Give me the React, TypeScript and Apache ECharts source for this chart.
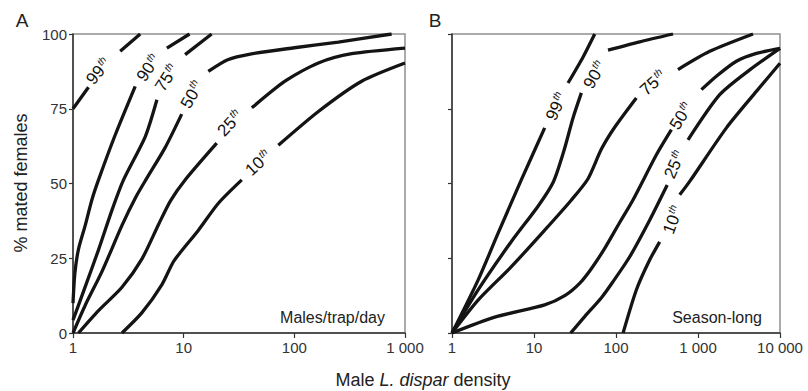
import { useEffect, useRef } from "react";
import * as echarts from "echarts";

// ---------- data ----------
const yMin = 0;
const yMax = 100;
const yInterval = 25;
const xMaxA = 1000;
const xMaxB = 10000;

// Panel A (Males/trap/day): each curve = segments separated by its label gap
const A99 = [
  [[1, 75], [1.38, 82.2]],
  [[2.67, 94.2], [4.05, 100]],
];
const A90 = [
  [[1, 10], [1.04, 20], [1.12, 28], [1.29, 36], [1.48, 44.5], [1.7, 51.2], [2.41, 66.3], [3.65, 82.5]],
  [[7.05, 95.3], [11.3, 100]],
];
const A75 = [
  [[1, 4.3], [1.29, 15.5], [1.7, 27.8], [2.25, 41.1], [2.86, 51.2], [4.5, 65.7], [5.73, 78]],
  [[10.3, 93.1], [17.9, 100]],
];
const A50 = [
  [[1, 0], [1.29, 9.3], [1.83, 20.6], [2.77, 36], [3.7, 45.5], [4.65, 51.8], [6.8, 62], [9.6, 73.2]],
  [[16.7, 87.5], [25, 91.4], [40, 93.3], [100, 95.4], [250, 97.3], [757, 100]],
];
const A25 = [
  [[1.12, 0], [1.7, 7.5], [2.77, 15.3], [4.2, 24.8], [5.93, 36.3], [7.6, 44.2], [10.3, 51.2], [19.9, 63.5]],
  [[41.3, 75.3], [82.4, 84.2], [165, 90.3], [330, 93.4], [1000, 95.3]],
];
const A10 = [
  [[2.77, 0], [4.2, 6.8], [6.36, 16.2], [8.2, 24.2], [13.6, 34.4], [20.6, 43.4], [33.5, 51.2]],
  [[71.7, 62.8], [165, 74.1], [406, 84.2], [1000, 90.3]],
];

// Panel B (Season-long)
const B99 = [
  [[1, 0], [2.08, 17.7], [3.64, 33.3], [7.0, 51.2], [13.5, 68.6]],
  [[26, 83.6], [40, 92.5], [55, 100]],
];
const B90 = [
  [[1, 0], [2.08, 14.4], [5.3, 30.6], [11.2, 42.4], [17.2, 50.5], [23.2, 61], [29.9, 71.9], [37.8, 80.3]],
  [[79.9, 94.6], [195, 97.4], [496, 100]],
];
const B75 = [
  [[1, 0], [2.08, 11], [5.3, 22.2], [13.5, 34.4], [28.6, 44.5], [45.6, 51.6], [66.4, 61.5], [96.4, 68.8], [177, 78.6]],
  [[570, 88.1], [1390, 94.2], [4690, 100]],
];
const B50 = [
  [[1, 0], [3.32, 5.3], [13.5, 9.4], [24, 12.6], [36, 16.6], [50, 21.5], [72.8, 28.3], [110, 36.8], [161, 44.5], [311, 59.6], [474, 68]],
  [[1100, 81.4], [1676, 85.9], [2940, 90.9], [5155, 93.5], [10000, 95.2]],
];
const B25 = [
  [[28, 0], [41.5, 5.5], [66.4, 11.8], [90, 16.8], [147, 25.5], [258, 37.8], [421, 49.5]],
  [[755, 64.6], [1840, 79.7], [4270, 88], [10000, 95.2]],
];
const B10 = [
  [[122, 0], [177, 14.4], [257, 24.4], [341, 30.5]],
  [[598, 46.2], [792, 50.7], [2220, 68.6], [5150, 80.8], [10000, 90.2]],
];

const curvesA = [A99, A90, A75, A50, A25, A10];
const curvesB = [B99, B90, B75, B50, B25, B10];

// percentile labels: [text, x, y, angle]
const labelsA: [string, number, number, number][] = [
  ["99", 1.7, 87.5, 50],
  ["90", 4.81, 88.6, 55],
  ["75", 7.05, 85.3, 57],
  ["50", 11.9, 79.7, 60],
  ["25", 26.3, 70.1, 47],
  ["10", 47.3, 56.8, 43],
];
const labelsB: [string, number, number, number][] = [
  ["99", 18.8, 75.7, 65],
  ["90", 55, 86.3, 60],
  ["75", 283, 83.6, 42],
  ["50", 628, 72.5, 58],
  ["25", 520, 56.3, 66],
  ["10", 496, 37.8, 70],
];

const FONT = "'Liberation Sans', Arial, Helvetica, sans-serif";
const INK = "#111";

function fmtTick(v: number) {
  const n = Math.round(v);
  return String(n).replace(/\B(?=(\d{3})+(?!\d))/g, " ");
}

export default function App() {
  const ref = useRef<HTMLDivElement>(null);
  useEffect(() => {
    if (!ref.current) return;
    const chart = echarts.init(ref.current, undefined, { renderer: "svg" });

    const series: any[] = [];
    const addCurves = (curves: number[][][][], idx: number) => {
      curves.forEach((curve) =>
        curve.forEach((seg) =>
          series.push({
            type: "line",
            xAxisIndex: idx,
            yAxisIndex: idx,
            data: seg,
            smooth: 0.25,
            showSymbol: false,
            silent: true,
            lineStyle: { color: "#141414", width: 3.3, cap: "butt" },
          })
        )
      );
    };
    addCurves(curvesA, 0);
    addCurves(curvesB, 1);

    const yAxisBase = {
      type: "value",
      min: yMin,
      max: yMax,
      interval: yInterval,
      splitLine: { show: false },
      axisLine: { show: true, lineStyle: { color: "#333", width: 1.5 } },
      axisTick: { show: true, inside: false, length: 4, lineStyle: { color: "#333", width: 1.2 } },
    };
    const xAxisBase = {
      type: "log",
      logBase: 10,
      min: 1,
      splitLine: { show: false },
      axisLine: { show: true, onZero: false, lineStyle: { color: "#333", width: 1.5 } },
      axisTick: { show: true, inside: false, length: 5, lineStyle: { color: "#333", width: 1.2 } },
      axisLabel: { fontSize: 15, color: "#333", fontFamily: FONT, margin: 7, formatter: fmtTick },
    };

    chart.setOption({
      animation: false,
      backgroundColor: "#fff",
      textStyle: { fontFamily: FONT },
      grid: [
        { left: 73, top: 34, right: 403, bottom: 58, show: true, borderColor: "#909090", borderWidth: 1.5, backgroundColor: "transparent" },
        { left: 452, top: 34, right: 28, bottom: 58, show: true, borderColor: "#909090", borderWidth: 1.5, backgroundColor: "transparent" },
      ],
      xAxis: [
        { ...xAxisBase, gridIndex: 0, max: xMaxA },
        { ...xAxisBase, gridIndex: 1, max: xMaxB },
      ],
      yAxis: [
        { ...yAxisBase, gridIndex: 0, axisLabel: { fontSize: 15, color: "#333", fontFamily: FONT, margin: 6 } },
        { ...yAxisBase, gridIndex: 1, axisLabel: { show: false } },
      ],
      series,
    });

    // percentile labels placed through the axes' own scales
    const curveLabel = ([t, x, y, a]: [string, number, number, number], gridIndex: number) => {
      const p = chart.convertToPixel({ gridIndex } as any, [x, y]) as number[];
      return {
        type: "text",
        x: p[0],
        y: p[1],
        rotation: (a * Math.PI) / 180,
        silent: true,
        style: {
          text: `{n|${t}}{s|th}`,
          align: "center",
          verticalAlign: "middle",
          rich: {
            n: { fontSize: 17, fill: INK, fontFamily: FONT, lineHeight: 19, verticalAlign: "middle" },
            s: { fontSize: 10, fill: INK, fontFamily: FONT, fontStyle: "italic", lineHeight: 19, verticalAlign: "top", padding: [0, 0, 0, 1] },
          },
        },
      };
    };

    chart.setOption({
      graphic: [
        { type: "text", x: 22, y: 20, style: { text: "A", fontSize: 19, fill: "#222", fontFamily: FONT, align: "center", verticalAlign: "middle" } },
        { type: "text", x: 435, y: 20, style: { text: "B", fontSize: 19, fill: "#222", fontFamily: FONT, align: "center", verticalAlign: "middle" } },
        { type: "text", x: 385, y: 317, style: { text: "Males/trap/day", fontSize: 16, fill: "#222", fontFamily: FONT, align: "right", verticalAlign: "middle" } },
        { type: "text", x: 762, y: 317, style: { text: "Season-long", fontSize: 16, fill: "#222", fontFamily: FONT, align: "right", verticalAlign: "middle" } },
        {
          type: "text", x: 21, y: 183, rotation: Math.PI / 2,
          style: { text: "% mated females", fontSize: 18, fill: "#222", fontFamily: FONT, align: "center", verticalAlign: "middle" },
        },
        {
          type: "text", x: 423, y: 380,
          style: {
            text: "{a|Male }{b|L. dispar}{a| density}",
            align: "center", verticalAlign: "middle",
            rich: {
              a: { fontSize: 18, fill: "#222", fontFamily: FONT },
              b: { fontSize: 18, fill: "#222", fontFamily: FONT, fontStyle: "italic" },
            },
          },
        },
        ...labelsA.map((l) => curveLabel(l, 0)),
        ...labelsB.map((l) => curveLabel(l, 1)),
      ],
    });
    return () => chart.dispose();
  }, []);
  return <div ref={ref} style={{ position: "fixed", left: 0, top: 0, width: 808, height: 391 }} />;
}
